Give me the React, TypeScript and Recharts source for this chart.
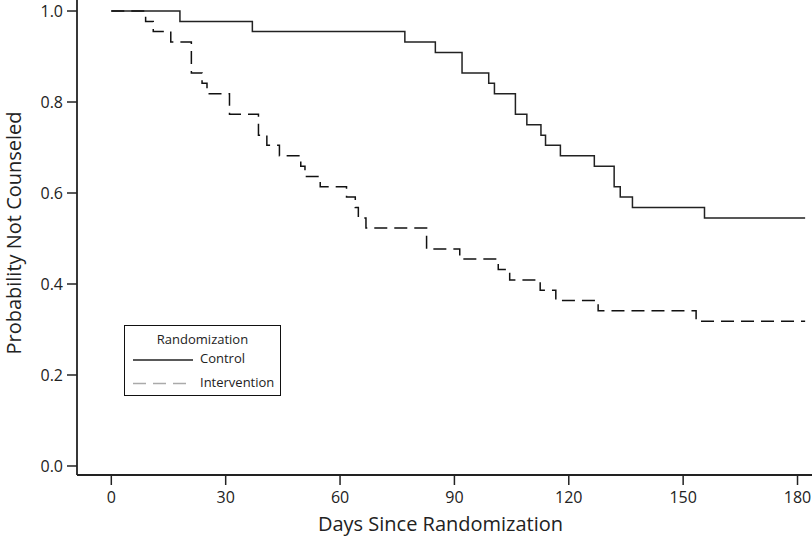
import React from 'react';
import { LineChart, Line, XAxis, YAxis, Legend } from 'recharts';

// Kaplan-Meier estimates (day of event, survival after it)
const controlDays = [0, 18, 37, 77, 85, 92, 99, 100.5, 106, 109, 112.7, 113.9, 117.8, 126.7, 131.9, 133.5, 136.7, 155.6, 182];
const controlProb = [1, 0.977, 0.955, 0.932, 0.909, 0.864, 0.841, 0.818, 0.773, 0.75, 0.727, 0.705, 0.682, 0.659, 0.614, 0.591, 0.568, 0.545, 0.545];

const interventionDays = [0, 9, 11, 15.6, 21, 23.8, 25.1, 31, 38.6, 40.8, 44.1, 49.7, 50.8, 54.8, 61.7, 64, 64.8, 66.8, 82.7, 91.4, 101.5, 104.5, 112.5, 116.6, 127.7, 153.4, 182];
const interventionProb = [1, 0.977, 0.955, 0.932, 0.864, 0.841, 0.818, 0.773, 0.727, 0.705, 0.682, 0.659, 0.636, 0.614, 0.591, 0.568, 0.545, 0.523, 0.477, 0.455, 0.432, 0.409, 0.386, 0.364, 0.341, 0.318, 0.318];

const xTicks = [0, 30, 60, 90, 120, 150, 180];
const yTicks = [0, 0.2, 0.4, 0.6, 0.8, 1.0];

const controlData = controlDays.map((day, i) => ({ day, p: controlProb[i] }));
const interventionData = interventionDays.map((day, i) => ({ day, p: interventionProb[i] }));

const FONT = '"Open Sans", sans-serif';
const AXIS = '#222';

const LegendBox = () => (
  <div
    style={{
      width: 157,
      height: 71,
      boxSizing: 'border-box',
      border: '1.5px solid #111',
      background: '#fff',
      fontFamily: FONT,
      fontSize: 13,
      color: '#222',
      position: 'relative',
    }}
  >
    <div style={{ position: 'absolute', top: 4, left: 0, width: '100%', textAlign: 'center' }}>Randomization</div>
    <svg width={70} height={60} style={{ position: 'absolute', left: 6, top: 0 }}>
      <line x1={2} x2={62} y1={34} y2={34} stroke="#222" strokeWidth={1.5} />
      <line x1={2} x2={62} y1={57.5} y2={57.5} stroke="#aaa" strokeWidth={1.5} strokeDasharray="13 7" />
    </svg>
    <div style={{ position: 'absolute', top: 23, left: 75 }}>Control</div>
    <div style={{ position: 'absolute', top: 47, left: 75 }}>Intervention</div>
  </div>
);

export default function App() {
  return (
    <div style={{ position: 'absolute', left: 0, top: 0, width: 812, height: 538, background: '#fff' }}>
      <LineChart width={812} height={538} margin={{ top: 0, right: 0, bottom: 0, left: 0 }}>
        <XAxis
          dataKey="day"
          type="number"
          domain={[-9, 183.8]}
          allowDataOverflow
          ticks={xTicks}
          height={63}
          tickSize={10}
          tickMargin={7}
          axisLine={{ stroke: AXIS, strokeWidth: 1.8 }}
          tickLine={{ stroke: AXIS, strokeWidth: 1.5 }}
          tick={{ fill: '#222', fontSize: 16, fontFamily: FONT }}
          label={{
            value: 'Days Since Randomization',
            position: 'insideBottom',
            offset: 7,
            dx: -4,
            fill: '#222',
            fontSize: 20,
            fontFamily: FONT,
          }}
        />
        <YAxis
          type="number"
          domain={[-0.0198, 1.0242]}
          allowDataOverflow
          ticks={yTicks}
          width={77}
          tickSize={10}
          tickMargin={4}
          tickFormatter={(v: number) => v.toFixed(1)}
          axisLine={{ stroke: AXIS, strokeWidth: 1.8 }}
          tickLine={{ stroke: AXIS, strokeWidth: 1.5 }}
          tick={{ fill: '#222', fontSize: 16, fontFamily: FONT }}
        />
        <Legend
          layout="horizontal"
          verticalAlign="middle"
          align="center"
          content={() => <LegendBox />}
          wrapperStyle={{ left: 124, top: 325, width: 157, height: 71 }}
        />
        <Line
          data={controlData}
          dataKey="p"
          type="stepAfter"
          stroke="#222"
          strokeWidth={1.5}
          dot={false}
          isAnimationActive={false}
          name="Control"
        />
        <Line
          data={interventionData}
          dataKey="p"
          type="stepAfter"
          stroke="#111"
          strokeWidth={1.5}
          strokeDasharray="13 7"
          dot={false}
          isAnimationActive={false}
          name="Intervention"
        />
        <text
          x={13}
          y={233}
          transform="rotate(-90 13 233)"
          textAnchor="middle"
          dominantBaseline="central"
          fill="#222"
          fontSize={20}
          fontFamily={FONT}
        >
          Probability Not Counseled
        </text>
      </LineChart>
    </div>
  );
}
